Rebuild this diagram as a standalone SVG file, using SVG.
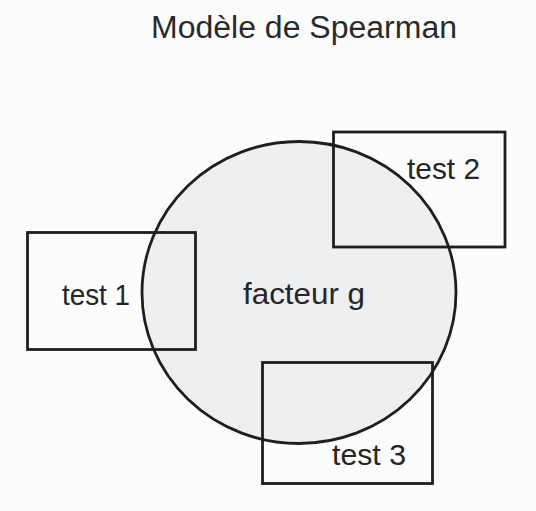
<svg xmlns="http://www.w3.org/2000/svg" width="536" height="511" viewBox="0 0 536 511">
  <style>
    .outline { fill: none; stroke: #1e1e1e; stroke-width: 2.8; }
    .factor { fill: #eeeff1; stroke: #1e1e1e; stroke-width: 2.8; }
    .label { font-family: "Liberation Sans", Arial, Helvetica, sans-serif; font-size: 29px; fill: #262626; }
    .title { font-family: "Liberation Sans", Arial, Helvetica, sans-serif; font-size: 31px; fill: #2a2a2a; }
  </style>

  <rect x="0" y="0" width="536" height="511" fill="#fcfcfc"/>

  <text class="title" x="151" y="38" textLength="306" lengthAdjust="spacingAndGlyphs">Modèle de Spearman</text>

  <!-- general factor -->
  <g id="facteur-g">
    <ellipse class="factor" cx="299" cy="292.5" rx="157" ry="151"/>
  </g>

  <!-- individual tests, each partly overlapping the general factor -->
  <g id="test-1">
    <rect class="outline" x="27.5" y="232.5" width="168" height="117"/>
    <text class="label" x="62" y="305" textLength="68" lengthAdjust="spacingAndGlyphs">test 1</text>
  </g>

  <g id="test-2">
    <rect class="outline" x="333.5" y="132" width="171.5" height="115"/>
    <text class="label" x="407" y="179" textLength="73" lengthAdjust="spacingAndGlyphs">test 2</text>
  </g>

  <g id="test-3">
    <rect class="outline" x="262.5" y="362.5" width="170" height="121"/>
    <text class="label" x="332" y="465" textLength="74" lengthAdjust="spacingAndGlyphs">test 3</text>
  </g>

  <g id="facteur-g-label">
    <text class="label" x="243" y="304" font-size="31" textLength="122" lengthAdjust="spacingAndGlyphs">facteur g</text>
  </g>

  <g id="connectors"/>
</svg>
